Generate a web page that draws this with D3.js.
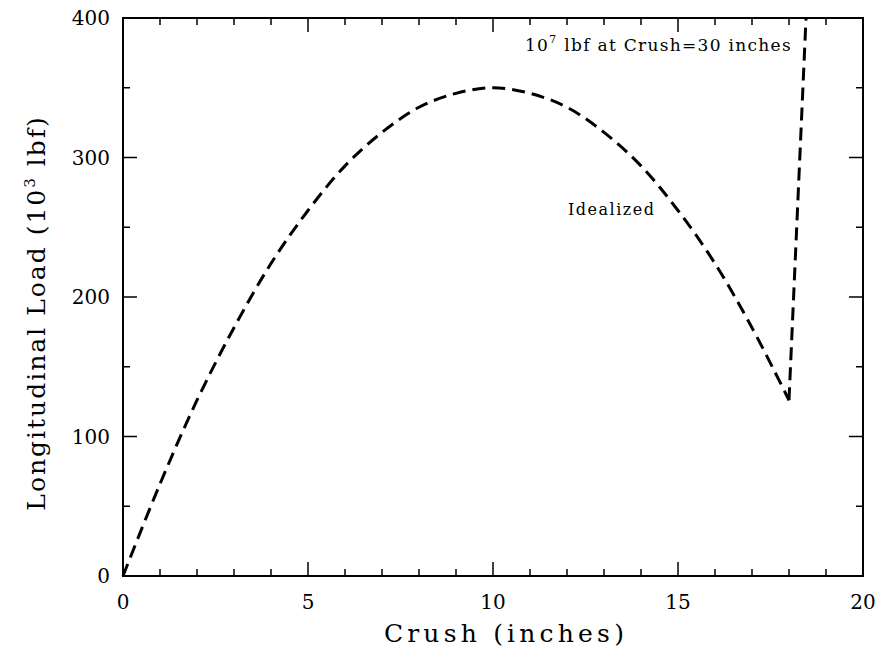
<!DOCTYPE html>
<html><head><meta charset="utf-8">
<script src="https://cdn.jsdelivr.net/npm/d3@7"></script>
<style>body{margin:0;background:#fff}</style>
</head><body>
<script>
// Data
const crush = [0,1,2,3,4,5,6,7,8,9,10,11,12,13,14,15,16,17,18];
const load  = [0,66,126,178,224,262,294,318,336,346,350,346,336,318,294,262,224,178,126];
const spikeCrush = [18,18.46];
const spikeLoad = [126,400];
const xTicks = [0,5,10,15,20];
const yTicks = [0,100,200,300,400];

const W=883,H=663;
const m={l:123,r:863,t:18,b:576};
const svg=d3.select("body").append("svg").attr("width",W).attr("height",H);
const x=d3.scaleLinear().domain([0,20]).range([m.l,m.r]);
const y=d3.scaleLinear().domain([0,400]).range([m.b,m.t]);
const font="'DejaVu Serif', serif";

// frame
svg.append("rect").attr("x",m.l).attr("y",m.t).attr("width",m.r-m.l).attr("height",m.b-m.t)
  .attr("fill","none").attr("stroke","#000").attr("stroke-width",2);

const g=svg.append("g").attr("stroke","#000").attr("stroke-width",1.5);
// x ticks (bottom & top)
d3.range(0,21,1).forEach(v=>{
  const len = v%5===0?14:7;
  g.append("line").attr("x1",x(v)).attr("x2",x(v)).attr("y1",m.b).attr("y2",m.b-len);
  g.append("line").attr("x1",x(v)).attr("x2",x(v)).attr("y1",m.t).attr("y2",m.t+len);
});
d3.range(0,401,50).forEach(v=>{
  const len = v%100===0?14:7;
  g.append("line").attr("y1",y(v)).attr("y2",y(v)).attr("x1",m.l).attr("x2",m.l+len);
  g.append("line").attr("y1",y(v)).attr("y2",y(v)).attr("x1",m.r).attr("x2",m.r-len);
});

// tick labels
svg.selectAll(".xl").data(xTicks).enter().append("text")
  .attr("x",d=>x(d)).attr("y",609).attr("text-anchor","middle")
  .attr("font-family",font).attr("font-size",20).text(d=>d);
svg.selectAll(".yl").data(yTicks).enter().append("text")
  .attr("x",m.l-13).attr("y",d=>y(d)+7).attr("text-anchor","end")
  .attr("font-family",font).attr("font-size",20).text(d=>d);

// axis titles
svg.append("text").attr("x",506).attr("y",642).attr("text-anchor","middle")
  .attr("font-family",font).attr("font-size",25).attr("letter-spacing",4.2).text("Crush (inches)");
const yt=svg.append("text").attr("transform","translate(45,313) rotate(-90)").attr("text-anchor","middle")
  .attr("font-family",font).attr("font-size",25).attr("letter-spacing",2);
yt.append("tspan").text("Longitudinal Load (10");
yt.append("tspan").attr("font-size",15).attr("dy",-10).text("3");
yt.append("tspan").attr("dy",10).text(" lbf)");

// curve
const line=d3.line().x(d=>x(d[0])).y(d=>y(d[1]));
svg.append("path").datum(crush.map((c,i)=>[c,load[i]]))
  .attr("d",line.curve(d3.curveCatmullRom)).attr("fill","none").attr("stroke","#000")
  .attr("stroke-width",3).attr("stroke-dasharray","13,7");
svg.append("path").datum(spikeCrush.map((c,i)=>[c,spikeLoad[i]]))
  .attr("d",d3.line().x(d=>x(d[0])).y(d=>y(d[1]))).attr("fill","none").attr("stroke","#000")
  .attr("stroke-width",3).attr("stroke-dasharray","13,7");

// annotations
const an=svg.append("text").attr("x",525).attr("y",51).attr("font-family",font).attr("font-size",17).attr("letter-spacing",1.3);
an.append("tspan").text("10");
an.append("tspan").attr("font-size",11).attr("dy",-8).text("7");
an.append("tspan").attr("dy",8).text(" lbf at Crush=30 inches");
svg.append("text").attr("x",568).attr("y",215).attr("font-family",font).attr("font-size",16).attr("letter-spacing",1.5).text("Idealized");
</script>
</body></html>
